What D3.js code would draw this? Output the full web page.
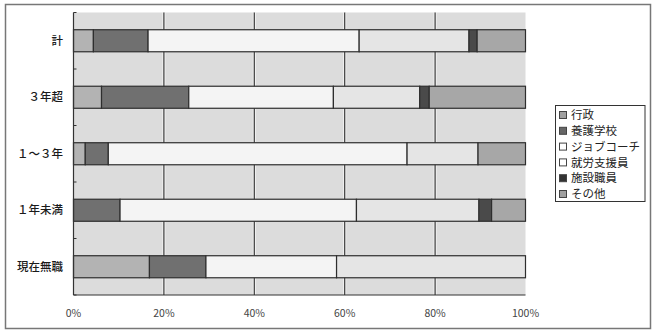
<!DOCTYPE html>
<html><head><meta charset="utf-8">
<script src="https://cdn.jsdelivr.net/npm/d3@7"></script>
<style>
html,body{margin:0;padding:0;background:#fff;}
svg{display:block;}
text{font-family:"Noto Sans CJK JP","Noto Sans",sans-serif;}
</style></head>
<body>
<svg id="c" width="656" height="334"></svg>
<script>
const categories = ["計", "３年超", "１〜３年", "１年未満", "現在無職"];
const seriesNames = ["行政", "養護学校", "ジョブコーチ", "就労支援員", "施設職員", "その他"];
const gyosei      = [4.4, 6.2, 2.6, 0, 16.8];
const yogo        = [12.1, 19.3, 5.1, 10.3, 12.5];
const jobcoach    = [46.7, 32.0, 66.1, 52.3, 28.9];
const shuro       = [24.3, 19.1, 15.7, 27.1, 41.8];
const shisetsu    = [1.8, 2.1, 0, 2.8, 0];
const sonota      = [10.7, 21.3, 10.5, 7.5, 0];
const tickValues  = [0, 20, 40, 60, 80, 100];
const tickLabels  = ["0%", "20%", "40%", "60%", "80%", "100%"];

const seriesValues = [gyosei, yogo, jobcoach, shuro, shisetsu, sonota];
const barColors = ["#b3b3b3", "#707070", "#f4f4f4", "#e5e5e5", "#4a4a4a", "#a7a7a7"];
const swatchColors = ["#a0a0a0", "#666666", "#ffffff", "#ffffff", "#333333", "#a0a0a0"];

const svg = d3.select("#c");
// outer frame
svg.append("rect").attr("x", 5.5).attr("y", 4.5).attr("width", 645).attr("height", 324)
  .attr("fill", "#fff").attr("stroke", "#777").attr("stroke-width", 1.5);

const x = d3.scaleLinear().domain([0, 100]).range([73.5, 525.5]);
const y = d3.scaleBand().domain(categories).range([12.5, 295]).paddingInner(0.61).paddingOuter(0.305);

// plot background
svg.append("rect").attr("x", x(0)).attr("y", 12.5).attr("width", x(100) - x(0)).attr("height", 295 - 12.5)
  .attr("fill", "#dcdcdc");

// gridlines
const grid = svg.append("g");
tickValues.filter(v => v > 0 && v < 100).forEach(v => {
  grid.append("line").attr("x1", x(v)).attr("x2", x(v)).attr("y1", 12.5).attr("y2", 295)
    .attr("stroke", "#f4f4f4").attr("stroke-width", 3);
  grid.append("line").attr("x1", x(v)).attr("x2", x(v)).attr("y1", 12.5).attr("y2", 295)
    .attr("stroke", "#3a3a3a").attr("stroke-width", 1.2);
});

// stacked data
const rows = categories.map((c, i) => {
  const o = {cat: c};
  seriesNames.forEach((s, j) => o[s] = seriesValues[j][i]);
  return o;
});
const stacked = d3.stack().keys(seriesNames)(rows);

svg.append("g").selectAll("g").data(stacked).join("g")
  .attr("fill", (d, i) => barColors[i])
  .selectAll("rect").data(d => d.filter(p => p[1] - p[0] > 0)).join("rect")
  .attr("x", d => x(d[0]))
  .attr("y", d => y(d.data.cat))
  .attr("width", d => x(d[1]) - x(d[0]))
  .attr("height", y.bandwidth())
  .attr("stroke", "#2e2e2e").attr("stroke-width", 1.2);

// left axis
const step = y.step();
const leftG = svg.append("g");
leftG.append("line").attr("x1", x(0)).attr("x2", x(0)).attr("y1", 12.5).attr("y2", 295)
  .attr("stroke", "#333").attr("stroke-width", 1.2);
for (let i = 0; i <= categories.length; i++) {
  const yy = 12.5 + i * step;
  leftG.append("line").attr("x1", x(0)).attr("x2", x(0) + 3).attr("y1", yy).attr("y2", yy)
    .attr("stroke", "#333").attr("stroke-width", 1);
}
leftG.selectAll("text").data(categories).join("text")
  .attr("x", 63).attr("y", d => y(d) + y.bandwidth() / 2)
  .attr("dy", "0.35em").attr("text-anchor", "end")
  .attr("font-size", 11.5).attr("font-weight", 500).attr("fill", "#1a1a1a").text(d => d);

// bottom axis
svg.append("line").attr("x1", x(0)).attr("x2", x(100)).attr("y1", 295).attr("y2", 295)
  .attr("stroke", "#333").attr("stroke-width", 1.2);
svg.append("g").selectAll("text").data(tickValues).join("text")
  .attr("x", d => x(d)).attr("y", 317).attr("text-anchor", "middle")
  .attr("font-size", 10.5).attr("fill", "#444")
  .text((d, i) => tickLabels[i]);

// legend
const lg = svg.append("g");
lg.append("rect").attr("x", 555.5).attr("y", 105.5).attr("width", 89.5).attr("height", 96)
  .attr("fill", "#fff").attr("stroke", "#333").attr("stroke-width", 1);
seriesNames.forEach((s, i) => {
  const cy = 115 + i * 15.8;
  lg.append("rect").attr("x", 559.5).attr("y", cy - 3.5).attr("width", 7).attr("height", 7)
    .attr("fill", swatchColors[i]).attr("stroke", "#444").attr("stroke-width", 1);
  lg.append("text").attr("x", 571).attr("y", cy).attr("dy", "0.36em")
    .attr("font-size", 11.5).attr("fill", "#222").text(s);
});
</script>
</body></html>
